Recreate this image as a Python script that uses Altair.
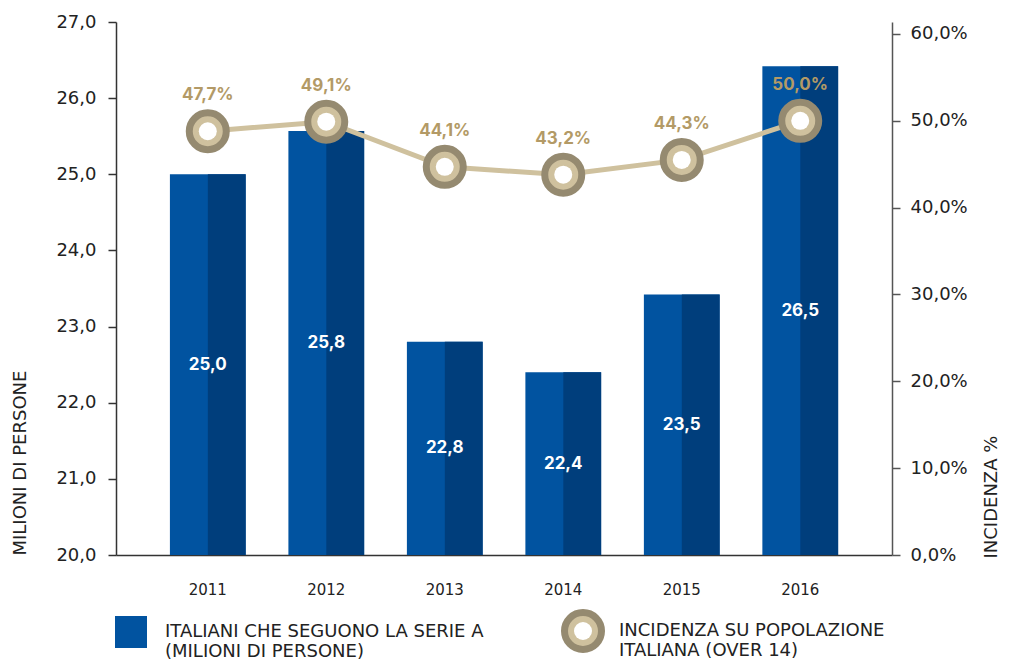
import altair as alt
import pandas as pd

years = ["2011", "2012", "2013", "2014", "2015", "2016"]
spettatori = [25.0, 25.57, 22.8, 22.4, 23.42, 26.42]          # bar heights as drawn
spettatori_lbl = ["25,0", "25,8", "22,8", "22,4", "23,5", "26,5"]
incidenza = [48.8, 49.9, 44.7, 43.8, 45.5, 50.0]               # marker positions as drawn
incidenza_lbl = ["47,7%", "49,1%", "44,1%", "43,2%", "44,3%", "50,0%"]

bar_series = "ITALIANI CHE SEGUONO LA SERIE A|(MILIONI DI PERSONE)"
line_series = "INCIDENZA SU POPOLAZIONE|ITALIANA (OVER 14)"

df = pd.DataFrame({
    "anno": years,
    "val": spettatori,
    "val_lbl": spettatori_lbl,
    "inc": incidenza,
    "inc_lbl": incidenza_lbl,
    "s1": [bar_series] * 6,
    "s2": [line_series] * 6,
})

FONT = "DejaVu Sans"
BFONT = "Inter"
LIGHT = "#0153a0"
DARK = "#003e7c"
RING = "#958a70"
BEIGE = "#cfc19e"
GOLD = "#b39a66"

x = alt.X("anno:N", title=None,
          scale=alt.Scale(paddingInner=0.361, paddingOuter=0.455),
          axis=alt.Axis(labelAngle=0, ticks=False, labelPadding=27, labelFontSize=15,
                        labelColor="#222", domainColor="#333", domainWidth=1.5, labelFont=FONT))

yL = alt.Y("val:Q", scale=alt.Scale(domain=[20, 27], nice=False, zero=False),
           axis=alt.Axis(title="MILIONI DI PERSONE", values=[20, 21, 22, 23, 24, 25, 26, 27],
                         labelExpr="replace(format(datum.value, '.1f'), '.', ',')",
                         grid=False, tickSize=8, tickColor="#333", domainColor="#333",
                         domainWidth=1.5, tickWidth=1.5, labelPadding=12, labelFontSize=18,
                         labelColor="#222", labelFont=FONT,
                         titleFont=FONT, titleFontSize=18, titleFontWeight="normal",
                         titleColor="#222", titleAngle=270, titleAlign="left",
                         titleBaseline="bottom", titleX=-87, titleY=533))

bars = alt.Chart(df).mark_bar(opacity=1).encode(
    x=x,
    y=yL,
    y2=alt.datum(20),
    fill=alt.Fill("s1:N", scale=alt.Scale(range=[LIGHT]),
                  legend=alt.Legend(title=None, orient="none", legendX=-1, legendY=594,
                                    symbolType="square", symbolSize=1024, symbolStrokeWidth=0,
                                    labelFont=FONT, labelFontSize=18, labelColor="#222",
                                    labelOffset=18, labelLimit=600, padding=0,
                                    labelExpr="split(datum.label, '|')")),
)
bars_dark = alt.Chart(df).mark_bar(color=DARK, width=alt.RelativeBandSize(0.5), xOffset=19).encode(
    x=x, y=alt.Y("val:Q"), y2=alt.datum(20)
)
bar_text = alt.Chart(df).transform_calculate(mid="(datum.val + 20) / 2").mark_text(
    color="white", font=BFONT, fontWeight="bold", fontSize=17
).encode(x=x, y=alt.Y("mid:Q"), text="val_lbl:N")

left = alt.layer(bars, bars_dark, bar_text)

yR_scale = alt.Scale(domain=[0, 61.38], nice=False)
yR = alt.Y("inc:Q", scale=yR_scale,
           axis=alt.Axis(title="INCIDENZA %", orient="right", values=[0, 10, 20, 30, 40, 50, 60],
                         labelExpr="replace(format(datum.value, '.1f'), '.', ',') + '%'",
                         grid=False, tickSize=8, tickColor="#555", domainColor="#555",
                         domainWidth=1.5, tickWidth=1.5, labelPadding=10, labelFontSize=18,
                         labelColor="#222", labelFont=FONT,
                         titleFont=FONT, titleFontSize=18, titleFontWeight="normal",
                         titleColor="#222", titleAngle=270, titleAlign="left",
                         titleBaseline="bottom", titleX=108, titleY=536))

line = alt.Chart(df).mark_line(color=BEIGE, strokeWidth=5).encode(x=x, y=yR)
ring = alt.Chart(df).mark_point(filled=True, fill=BEIGE, strokeWidth=7, opacity=1, size=1369).encode(
    x=x, y=alt.Y("inc:Q"),
    stroke=alt.Stroke("s2:N", scale=alt.Scale(range=[RING]),
                      legend=alt.Legend(title=None, orient="none", legendX=445, legendY=587,
                                        symbolType="circle", symbolSize=1369,
                                        symbolFillColor=BEIGE, symbolStrokeWidth=7,
                                        labelFont=FONT, labelFontSize=18, labelColor="#222",
                                        labelOffset=14, labelLimit=600, padding=0,
                                        labelExpr="split(datum.label, '|')")),
)
dot = alt.Chart(df).mark_point(filled=True, opacity=1, size=324).encode(
    x=x, y=alt.Y("inc:Q"),
    fill=alt.Fill("s2:N", scale=alt.Scale(range=["white"]),
                  legend=alt.Legend(title=None, orient="none", legendX=458, legendY=600,
                                    symbolType="circle", symbolSize=324, symbolStrokeWidth=0,
                                    labelExpr="''", labelFontSize=1, labelOffset=0, padding=0)),
)
pct_text = alt.Chart(df).mark_text(color=GOLD, font=BFONT, fontWeight="bold", fontSize=17, dy=-36).encode(
    x=x, y=alt.Y("inc:Q"), text="inc_lbl:N"
)
right = alt.layer(line, ring, dot, pct_text).resolve_scale(fill="independent")

chart = alt.layer(left, right).resolve_scale(y="independent", fill="independent").properties(
    width=776, height=533,
    autosize=alt.AutoSizeParams(type="none"),
    padding={"left": 108, "top": 14, "right": 111, "bottom": 106},
).configure_view(stroke=None)

chart.save("out.html", embed_options={"renderer": "svg", "actions": False})
